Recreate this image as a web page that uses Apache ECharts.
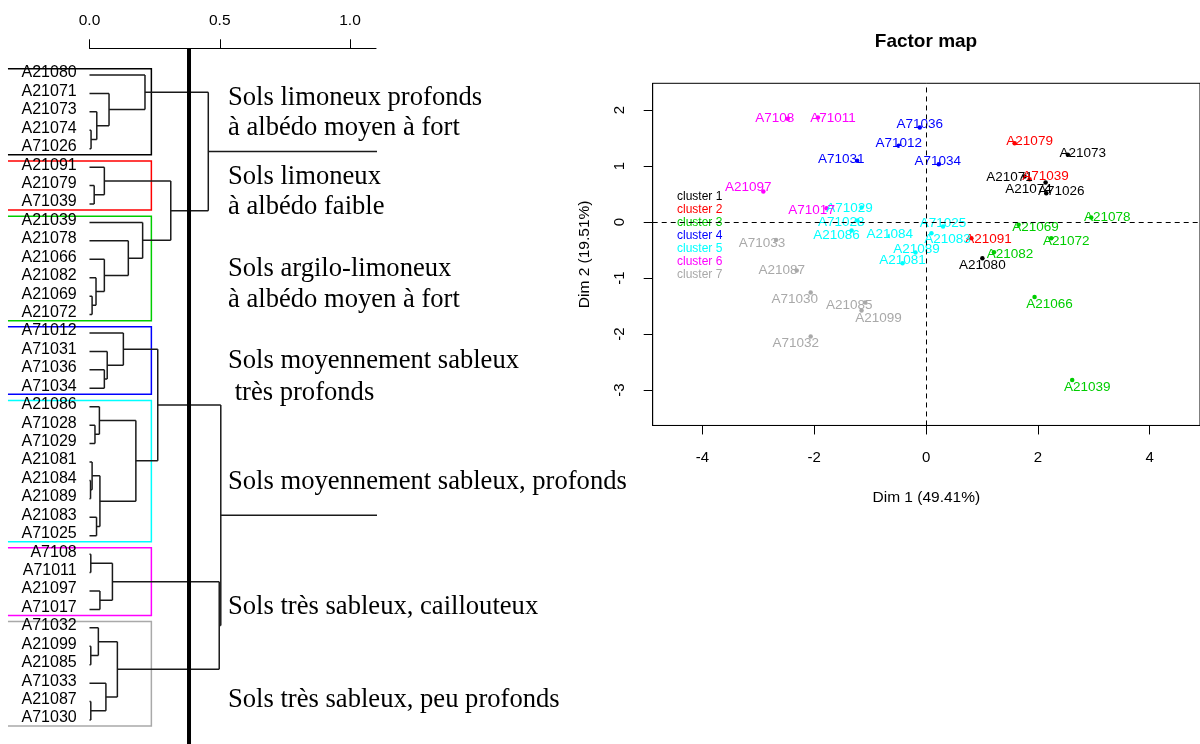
<!DOCTYPE html>
<html><head><meta charset="utf-8">
<script src="https://cdn.jsdelivr.net/npm/echarts@6/dist/echarts.min.js"></script>
<style>html,body{margin:0;padding:0;background:#fff}#c{width:1200px;height:744px}</style>
</head><body><div id="c"></div>
<script>
// ---------------- DATA ----------------
const leafOrder = ['A21080','A21071','A21073','A21074','A71026','A21091','A21079','A71039',
  'A21039','A21078','A21066','A21082','A21069','A21072','A71012','A71031','A71036','A71034',
  'A21086','A71028','A71029','A21081','A21084','A21089','A21083','A71025',
  'A7108','A71011','A21097','A71017','A71032','A21099','A21085','A71033','A21087','A71030'];

// merges: [child A, child B, height]; strings = leaves, numbers = earlier merge index
const merges = [
  ['A21074','A71026',0.006], ['A21073',0,0.028], ['A21071',1,0.075], ['A21080',2,0.213],
  ['A21079','A71039',0.018], ['A21091',4,0.057],
  ['A21069','A21072',0.010], ['A21082',6,0.025], ['A21066',7,0.057], ['A21078',8,0.149], ['A21039',9,0.204],
  [5,10,0.312], [3,11,0.456],
  ['A71036','A71034',0.057], ['A71031',13,0.068], ['A71012',14,0.130],
  ['A71028','A71029',0.021], ['A21086',16,0.038], ['A21084','A21089',0.004], ['A21081',18,0.010],
  ['A21083','A71025',0.027], [19,20,0.040], [17,21,0.178], [15,22,0.262],
  ['A7108','A71011',0.005], ['A21097','A71017',0.040], [24,25,0.088],
  ['A21099','A21085',0.005], ['A71032',27,0.034], ['A21087','A71030',0.005], ['A71033',29,0.063], [28,30,0.107],
  [26,31,0.498], [23,32,0.504], [12,33,1.5]
];
const cutHeight = 0.382;
const dendroTicks = [0, 0.5, 1.0];
const nClusters = 7;

const clusterNames = ['cluster 1','cluster 2','cluster 3','cluster 4','cluster 5','cluster 6','cluster 7'];
const clusterColors = ['#000000','#FF0000','#00CD00','#0000FF','#00FFFF','#FF00FF','#A9A9A9'];

const pointsCluster1 = [['A21080',1.007,-0.643],['A21071',1.762,0.814],['A21073',2.536,1.202],['A21074',2.138,0.707],['A71026',2.150,0.518]];
const pointsCluster2 = [['A21091',0.811,-0.286],['A21079',1.584,1.411],['A71039',1.852,0.768]];
const pointsCluster3 = [['A21039',2.614,-2.816],['A21078',2.954,0.082],['A21066',1.941,-1.334],['A21082',1.214,-0.536],['A21069',1.655,-0.048],['A21072',2.239,-0.286]];
const pointsCluster4 = [['A71012',-0.488,1.363],['A71031',-1.232,1.095],['A71036',-0.113,1.689],['A71034',0.227,1.036]];
const pointsCluster5 = [['A21086',-1.332,-0.150],['A71028',-1.232,0.029],['A71029',-1.154,0.261],['A21081',-0.421,-0.732],['A21084',-0.648,-0.245],['A21089',-0.189,-0.543],['A21083',0.096,-0.196],['A71025',0.304,-0.079]];
const pointsCluster6 = [['A7108',-2.475,1.845],['A71011',-1.934,1.868],['A21097',-2.911,0.546],['A71017',-1.779,0.250]];
const pointsCluster7 = [['A71032',-2.064,-2.043],['A21099',-1.154,-1.579],['A21085',-1.089,-1.436],['A71033',-2.684,-0.316],['A21087',-2.314,-0.864],['A71030',-2.064,-1.257]];
const clusterCenters = [[1.929,0.505],[1.423,0.625],[2.114,-0.834],[-0.393,1.279],[-0.570,-0.210],[-2.255,1.113],[-1.893,-1.250]];

const dim1Ticks = [-4,-2,0,2,4];
const dim2Ticks = [-3,-2,-1,0,1,2];

const annotationLines = [
  ['Sols limoneux profonds', 'à albédo moyen à fort'],
  ['Sols limoneux', 'à albédo faible'],
  ['Sols argilo-limoneux', 'à albédo moyen à fort'],
  ['Sols moyennement sableux', ' très profonds'],
  ['Sols moyennement sableux, profonds'],
  ['Sols très sableux, caillouteux'],
  ['Sols très sableux, peu profonds']
];

// ---------------- STYLE / LAYOUT ----------------
const SANS = '"Liberation Sans", Arial, sans-serif';
const SERIF = '"Liberation Serif", "Times New Roman", serif';
const annotationCenters = [[98,128],[177,207],[269.5,300.5],[361.5,393],[482.5],[607],[700.5]];
const annotationX = 228;
const dendroAxisY = 48.3;
const boxLeftHeight = -0.313; // left limit of plotting region of dendrogram
const labelOffsets = {
 A21080:[0,7], A21071:[-15,1], A21073:[15,-2], A21074:[-17,7], A71026:[15,-2],
 A21091:[17,1], A21079:[15,-2], A71039:[16,-3],
 A21039:[15,7], A21078:[16,0], A21066:[15,7], A21082:[16,2], A21069:[17,2], A21072:[15,3],
 A71012:[0,-3], A71031:[-16,-2], A71036:[0,-3], A71034:[-1,-3],
 A21086:[-15,5], A71028:[-16,2], A71029:[-12,1], A21081:[0,-3], A21084:[0,-2], A21089:[1,-3], A21083:[16,6], A71025:[0,-3],
 A7108:[-13,-1], A71011:[15,1], A21097:[-15,-4], A71017:[-15,2],
 A71032:[-15,7], A21099:[17,8], A21085:[-16,3], A71033:[-14,3], A21087:[-15,0], A71030:[-16,7]
};

// ---------------- BUILD ----------------
const leafIndex = {}; leafOrder.forEach((n,i)=>leafIndex[n]=i);
const nodeY = [];
const segments = [];
function childPos(c){ return typeof c === 'string' ? [0, leafIndex[c]] : [merges[c][2], nodeY[c]]; }
merges.forEach((m,k)=>{
  const pa = childPos(m[0]), pb = childPos(m[1]), h = m[2];
  segments.push([pa[0], pa[1], h, pa[1]]);
  segments.push([pb[0], pb[1], h, pb[1]]);
  segments.push([h, pa[1], h, pb[1]]);
  nodeY[k] = (pa[1] + pb[1]) / 2;
});
const sortedHeights = merges.map(m=>m[2]).sort((a,b)=>b-a);
const boxTopHeight = (sortedHeights[nClusters-2] + sortedHeights[nClusters-1]) / 2;

const clusterPoints = [pointsCluster1,pointsCluster2,pointsCluster3,pointsCluster4,pointsCluster5,pointsCluster6,pointsCluster7];
const boxes = clusterPoints.map((pts,i)=>{
  const idx = pts.map(p=>leafIndex[p[0]]);
  return [Math.min(...idx) - 0.34, Math.max(...idx) + 0.33, i];
});

const scatterSeries = clusterPoints.map((pts,ci)=>({
  type:'scatter', name: clusterNames[ci], xAxisIndex:1, yAxisIndex:1,
  symbol:'circle', symbolSize:4.5,
  itemStyle:{color: clusterColors[ci], opacity:1},
  label:{show:true, position:'inside', formatter: p=>p.name, color: clusterColors[ci],
         fontSize:13.5, fontFamily:SANS},
  emphasis:{disabled:true},
  data: pts.map(p=>({name:p[0], value:[p[1],p[2]], label:{offset: labelOffsets[p[0]]}}))
    .concat([{name:'', value: clusterCenters[ci], symbol:'emptyRect', symbolSize:7,
              itemStyle:{color:'#fff', borderColor: clusterColors[ci], borderWidth:1.2},
              label:{show:false}}]),
  z: 3
}));
scatterSeries[0].markLine = {
  silent:true, symbol:['none','none'], label:{show:false},
  lineStyle:{color:'#000', type:[5,4], width:1},
  data:[{xAxis:0},{yAxis:0}]
};

const graphics = [];
annotationLines.forEach((lines,i)=>{
  lines.forEach((t,j)=>{
    graphics.push({type:'text', x: annotationX, y: annotationCenters[i][j],
      style:{text:t, font:'26.6px '+SERIF, fill:'#000', textAlign:'left', textVerticalAlign:'middle'}});
  });
});
graphics.push({type:'text', x: 926, y: 42, style:{text:'Factor map', font:'bold 19px '+SANS, fill:'#000', textAlign:'center', textVerticalAlign:'middle'}});

const option = {
  animation:false,
  backgroundColor:'#fff',
  grid:[
    {left:89.5, top:65.8, width:286.55, height:663.4},
    {left:652.7, top:83.3, width:548.24, height:342.16, show:true, borderColor:'#000', borderWidth:1}
  ],
  xAxis:[
    {gridIndex:0, type:'value', position:'top', min:0, max:1.1, offset:17.5,
     axisLine:{show:true, onZero:false, lineStyle:{color:'#000', width:1}},
     axisTick:{show:true, length:9, customValues: dendroTicks, lineStyle:{color:'#000'}},
     axisLabel:{show:true, customValues: dendroTicks, formatter:v=>v.toFixed(1), margin:20,
                fontSize:15.5, fontFamily:SANS, color:'#000'},
     splitLine:{show:false}},
    {gridIndex:1, type:'value', min:-4.89, max:4.9,
     axisLine:{show:true, onZero:false, lineStyle:{color:'#000'}},
     axisTick:{show:true, length:9, customValues: dim1Ticks, lineStyle:{color:'#000'}},
     axisLabel:{show:true, customValues: dim1Ticks, margin:25, fontSize:15, fontFamily:SANS, color:'#000'},
     splitLine:{show:false},
     name:'Dim 1 (49.41%)', nameLocation:'middle', nameGap:64,
     nameTextStyle:{fontSize:15.5, fontFamily:SANS, color:'#000'}}
  ],
  yAxis:[
    {gridIndex:0, type:'value', min:-0.5, max:35.5, inverse:true, show:false},
    {gridIndex:1, type:'value', min:-3.63, max:2.48,
     axisLine:{show:true, onZero:false, lineStyle:{color:'#000'}},
     axisTick:{show:true, length:9, customValues: dim2Ticks, lineStyle:{color:'#000'}},
     axisLabel:{show:true, customValues: dim2Ticks, rotate:90, margin:25, fontSize:15, fontFamily:SANS, color:'#000'},
     splitLine:{show:false},
     name:'Dim 2 (19.51%)', nameLocation:'middle', nameGap:60, nameRotate:90,
     nameTextStyle:{fontSize:15.5, fontFamily:SANS, color:'#000'}}
  ],
  legend:{
    orient:'vertical', left:667, top:185, itemGap:0, itemWidth:0, itemHeight:13, icon:'rect',
    selectedMode:false,
    textStyle:{fontSize:12, fontFamily:SANS, lineHeight:13},
    data: clusterNames.map((n,i)=>({name:n, textStyle:{color: clusterColors[i]}}))
  },
  graphic: graphics,
  series:[
    { // dendrogram branches
      type:'custom', xAxisIndex:0, yAxisIndex:0, clip:true, silent:true,
      data: segments,
      encode:{x:[0,2], y:[1,3]},
      renderItem:(params, api)=>{
        const p1 = api.coord([api.value(0), api.value(1)]);
        const p2 = api.coord([api.value(2), api.value(3)]);
        return {type:'line', shape:{x1:p1[0],y1:p1[1],x2:p2[0],y2:p2[1]},
                style:{stroke:'#1a1a1a', lineWidth:1.5}};
      }, z:2
    },
    { // cluster rectangles (left side lies outside the cropped figure)
      type:'custom', xAxisIndex:0, yAxisIndex:0, clip:false, silent:true,
      data: boxes,
      encode:{y:[0,1]},
      renderItem:(params, api)=>{
        const a = api.coord([boxLeftHeight, api.value(0)]);
        const b = api.coord([boxTopHeight, api.value(1)]);
        return {type:'polyline', shape:{points:[[a[0],a[1]],[b[0],a[1]],[b[0],b[1]],[a[0],b[1]]]},
                style:{stroke: clusterColors[api.value(2)], fill:null, lineWidth:1.5}};
      }, z:1
    },
    { // leaf labels
      type:'custom', xAxisIndex:0, yAxisIndex:0, clip:false, silent:true,
      data: leafOrder.map((n,i)=>[0,i]),
      encode:{x:0, y:1},
      renderItem:(params, api)=>{
        const p = api.coord([api.value(0), api.value(1)]);
        return {type:'text', x:p[0]-12.8, y:p[1]-2,
                style:{text: leafOrder[params.dataIndex], font:'16px '+SANS, fill:'#000',
                       textAlign:'right', textVerticalAlign:'middle'}};
      }, z:3
    },
    { // cut line
      type:'custom', xAxisIndex:0, yAxisIndex:0, clip:false, silent:true,
      data:[[cutHeight]],
      encode:{x:0},
      renderItem:(params, api)=>{
        const x = api.coord([api.value(0), 0])[0];
        return {type:'line', shape:{x1:x, y1:dendroAxisY, x2:x, y2:api.getHeight()},
                style:{stroke:'#000', lineWidth:4}};
      }, z:4
    }
  ].concat(scatterSeries)
};

const chart = echarts.init(document.getElementById('c'), null, {renderer:'canvas'});
chart.setOption(option);
</script>
</body></html>
